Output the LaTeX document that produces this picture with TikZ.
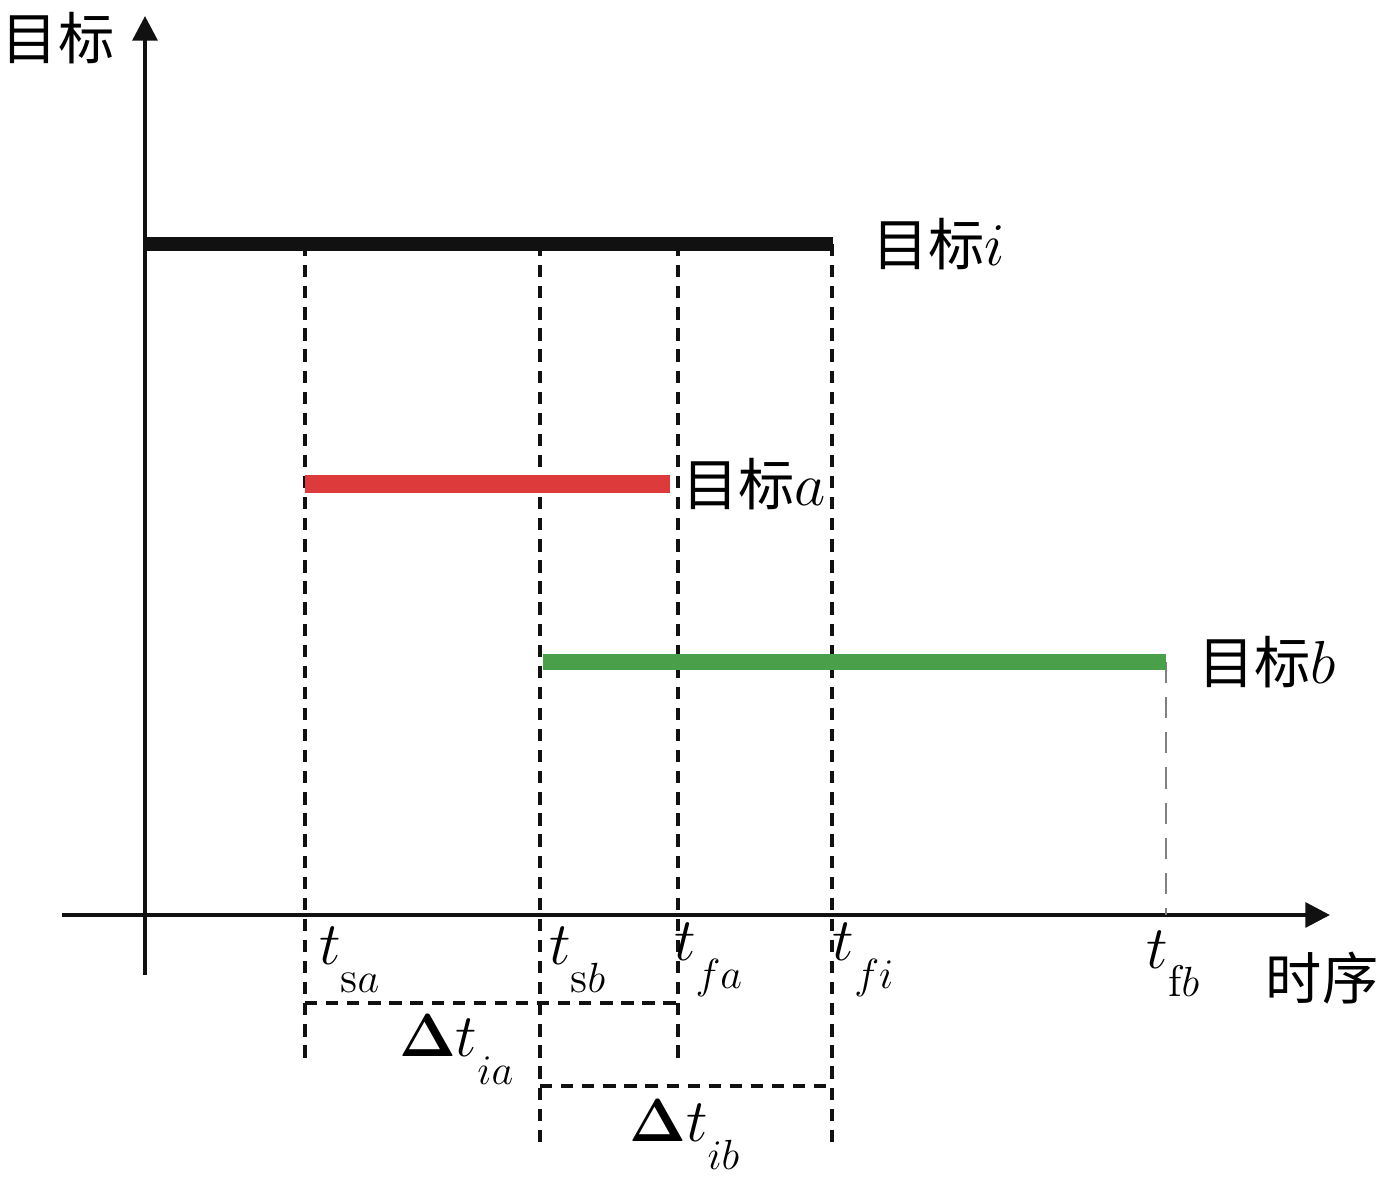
\documentclass[tikz,border=0pt]{standalone}
\usepackage{fontspec}
\usepackage{amsmath}
\newfontfamily\cjk{Noto Sans CJK SC}
\usetikzlibrary{arrows.meta,positioning,calc}
\definecolor{barred}{HTML}{DD3B3B}
\definecolor{bargreen}{HTML}{4A9F4A}
\definecolor{dark}{HTML}{111111}
\newcommand{\lowsub}[2]{#1_{\raisebox{-0.3em}{$\scriptstyle #2$}}}
\tikzset{
  axis/.style={-{Triangle[length=7pt,width=7pt]}, line width=1.2pt, draw=dark},
  bar/.style={line width=4.5pt, line cap=butt},
  guide/.style={dash pattern=on 3.5pt off 2.5pt, line width=1.1pt, draw=dark},
  tlabel/.style={font=\fontsize{18}{20}\selectfont, inner sep=1pt},
  cnlabel/.style={font=\cjk\fontsize{16}{18}\selectfont, inner sep=1pt}
}
\begin{document}
\begin{tikzpicture}
  \useasboundingbox (0,0) rectangle (13.88,11.8);
  % axes
  \coordinate (ybot) at (1.45,2.05);
  \coordinate (ytop) at (1.45,11.64);
  \coordinate (xleft) at (0.62,2.65);
  \coordinate (xright) at (13.3,2.65);
  \draw[axis] (ybot) -- (ytop);
  \draw[axis] (xleft) -- (xright);
  % time points on the bars
  \coordinate (istart) at (1.45,9.36);
  \coordinate (iend) at (8.33,9.36);
  \coordinate (astart) at (3.05,6.96);
  \coordinate (aend) at (6.70,6.96);
  \coordinate (bstart) at (5.43,5.18);
  \coordinate (bend) at (11.66,5.18);
  % guide lines
  \coordinate (sa top) at (3.05,9.36);  \coordinate (sa bot) at (3.05,1.20);
  \coordinate (sb top) at (5.40,9.36);  \coordinate (sb bot) at (5.40,0.38);
  \coordinate (fa top) at (6.78,9.36);  \coordinate (fa bot) at (6.78,1.20);
  \coordinate (fi top) at (8.32,9.36);  \coordinate (fi bot) at (8.32,0.38);
  \coordinate (fb top) at (11.66,5.18); \coordinate (fb bot) at (11.66,2.65);
  \draw[guide] (sa top) -- (sa bot);
  \draw[guide] (sb top) -- (sb bot);
  \draw[guide] (fa top) -- (fa bot);
  \draw[guide] (fi top) -- (fi bot);
  \draw[guide, draw=gray, line width=0.8pt, dash pattern=on 6pt off 4pt] (fb top) -- (fb bot);
  \coordinate (ia left) at (3.05,1.77);  \coordinate (ia right) at (6.78,1.77);
  \coordinate (ib left) at (5.40,0.94);  \coordinate (ib right) at (8.32,0.94);
  \draw[guide] (ia left) -- (ia right);
  \draw[guide] (ib left) -- (ib right);
  % bars
  \draw[bar, draw=dark, line width=4pt] (istart) -- (iend);
  \draw[bar, draw=barred, line width=5.2pt] (astart) -- (aend);
  \draw[bar, draw=bargreen] (bstart) -- (bend);
  % labels
  \node[cnlabel] (yname) at (0.58,11.42) {目标};
  \node[cnlabel] (xname) at (13.22,2.02) {时序};
  \node[cnlabel, right=0.35 of iend] (iname) {目标$i$};
  \node[cnlabel, right=0.08 of aend] (aname) {目标$a$};
  \node[cnlabel, right=0.28 of bend] (bname) {目标$b$};
  \node[tlabel] (tsa) at (3.5,2.2) {$\lowsub{t}{\mathrm{s}a}$};
  \node[tlabel] (tsb) at (5.78,2.2) {$\lowsub{t}{\mathrm{s}b}$};
  \node[tlabel] (tfa) at (7.09,2.2) {$\lowsub{t}{fa}$};
  \node[tlabel] (tfi) at (8.64,2.2) {$\lowsub{t}{fi}$};
  \node[tlabel] (tfb) at (11.74,2.16) {$\lowsub{t}{\mathrm{f}b}$};
  \node[tlabel] (dia) at (4.57,1.3) {$\boldsymbol{\Delta}\lowsub{t}{ia}$};
  \node[tlabel] (dib) at (6.85,0.45) {$\boldsymbol{\Delta}\lowsub{t}{ib}$};
\end{tikzpicture}
\end{document}
